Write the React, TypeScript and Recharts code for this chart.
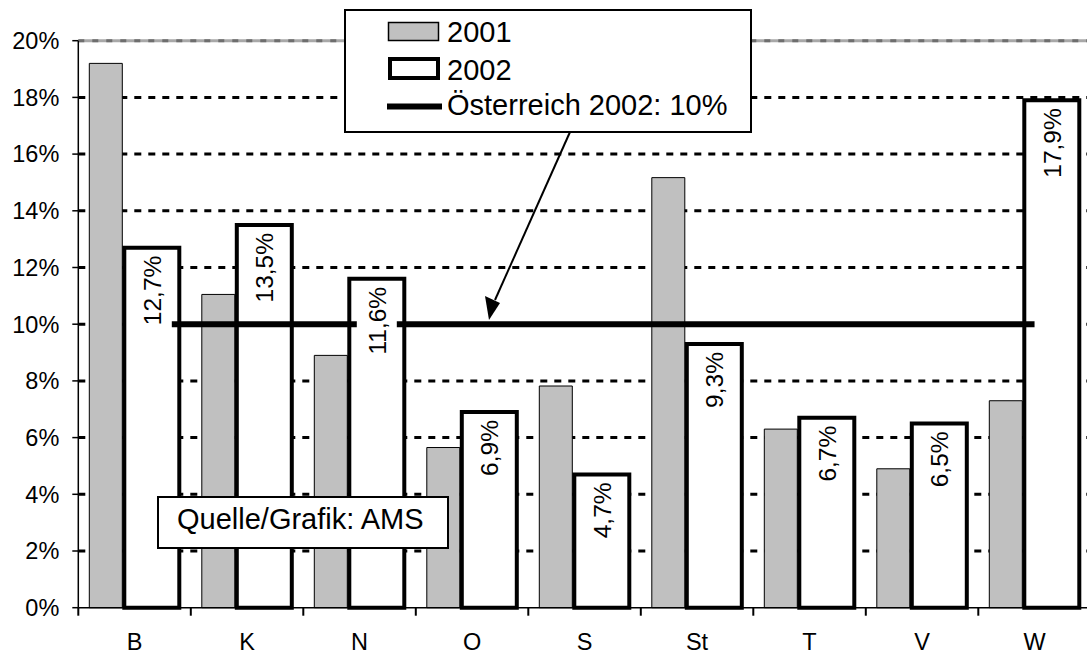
import React from 'react'
import { ComposedChart, Bar, Line, XAxis, YAxis, CartesianGrid, ReferenceLine, LabelList } from 'recharts'

const regions = ['B', 'K', 'N', 'O', 'S', 'St', 'T', 'V', 'W']
const rate2001 = [19.2, 11.05, 8.9, 5.65, 7.82, 15.17, 6.3, 4.9, 7.3]
const rate2002 = [12.7, 13.5, 11.6, 6.9, 4.7, 9.3, 6.7, 6.5, 17.9]
const austria2002 = 10
const yTicks = [0, 2, 4, 6, 8, 10, 12, 14, 16, 18, 20]
const gridValues = [2, 4, 6, 8, 10, 12, 14, 16, 18]

const data = regions.map((r, i) => ({ region: r, a2001: rate2001[i], a2002: rate2002[i], at: austria2002 }))

const FONT = '"Liberation Sans", Arial, sans-serif'
const pct = (v: number) => v.toFixed(1).replace('.', ',') + '%'

// rotated value label with a white patch behind it (hides the 10% line like the original)
function BarTag(props: any) {
  const { x, y, width, value } = props
  const cx = x + width / 2
  const ty = y + 8
  return (
    <g>
      <rect x={cx - 20} y={y + 3} width={40} height={78} fill="#fff" />
      <text x={cx} y={ty} dy="0.36em" textAnchor="end" fontSize={24.5} fontFamily={FONT} fill="#000"
        transform={`rotate(-90, ${cx}, ${ty})`}>{pct(value)}</text>
    </g>
  )
}

// category label plus a boundary tick on the left edge of the band
function CatTick(props: any) {
  const { x, y, payload } = props
  const off = payload?.offset ?? 56.25
  const axisY = y - 26
  return (
    <g>
      <line x1={x - off} x2={x - off} y1={axisY} y2={axisY + 8} stroke="#000" strokeWidth={2} />
      <text x={x} y={y} dy="0.71em" textAnchor="middle" fontSize={23.5} fontFamily={FONT} fill="#000">{payload.value}</text>
    </g>
  )
}

export default function App() {
  return (
    <div style={{ position: 'absolute', left: 0, top: 0, width: 1087, height: 655, overflow: 'hidden', background: '#fff' }}>
      <ComposedChart width={1092} height={655} data={data} barGap={2}
        margin={{ top: 40.7, right: 1.2, bottom: 7.3, left: 0 }}>
        <CartesianGrid vertical={false} horizontalValues={gridValues} stroke="#000" strokeWidth={3} strokeDasharray="7 7" />
        <ReferenceLine y={20} stroke="#a8a8a8" strokeWidth={3} />
        <ReferenceLine y={20} stroke="#6e6e6e" strokeWidth={3} strokeDasharray="6 8" />
        <XAxis dataKey="region" height={40} tickSize={0} tickMargin={26} tickLine={false}
          axisLine={{ stroke: '#000', strokeWidth: 1.5 }} tick={<CatTick />} interval={0} />
        <YAxis domain={[0, 20]} ticks={yTicks} width={78.3} tickSize={6} tickMargin={13}
          tickFormatter={(v: number) => v + '%'} axisLine={{ stroke: '#000', strokeWidth: 1.5 }}
          tickLine={{ stroke: '#000', strokeWidth: 1.5 }}
          tick={{ fontSize: 23.5, fontFamily: FONT, fill: '#000' }} />
        <Bar dataKey="a2001" barSize={33} fill="#c0c0c0" stroke="#000" strokeWidth={1} isAnimationActive={false} />
        <Bar dataKey="a2002" barSize={55} fill="#fff" stroke="#000" strokeWidth={4} isAnimationActive={false}>
          <LabelList dataKey="a2002" content={<BarTag />} />
        </Bar>
        <Line dataKey="at" stroke="#000" strokeWidth={6} dot={false} activeDot={false} type="linear" isAnimationActive={false} />
      </ComposedChart>
      <svg width={1087} height={655} style={{ position: 'absolute', left: 0, top: 0, pointerEvents: 'none' }}>
        <rect x={345} y={10} width={406} height={122} fill="#fff" stroke="#000" strokeWidth={2} />
        <rect x={388.5} y={22.5} width={50} height={18} fill="#c0c0c0" stroke="#000" strokeWidth={1.5} />
        <text x={447} y={42} fontSize={29} fontFamily={FONT}>2001</text>
        <rect x={390} y={59} width={48} height={19} fill="#fff" stroke="#000" strokeWidth={4} />
        <text x={447} y={80} fontSize={29} fontFamily={FONT}>2002</text>
        <line x1={387} x2={442} y1={106.5} y2={106.5} stroke="#000" strokeWidth={6} />
        <text x={447} y={115} fontSize={29} fontFamily={FONT}>Österreich 2002: 10%</text>
        <line x1={570} y1={132} x2={495} y2={300} stroke="#000" strokeWidth={2} />
        <polygon points="489,320 485,296 500,303" fill="#000" />
        <rect x={158} y={497} width={290} height={51} fill="#fff" stroke="#000" strokeWidth={2} />
        <text x={177} y={529} fontSize={29} fontFamily={FONT}>Quelle/Grafik: AMS</text>
      </svg>
    </div>
  )
}
